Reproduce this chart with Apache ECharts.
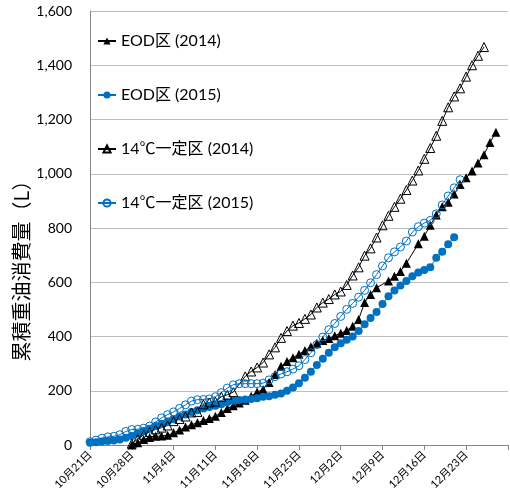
<!DOCTYPE html>
<html>
<head>
<meta charset="utf-8">
<script src="https://cdn.jsdelivr.net/npm/echarts@6/dist/echarts.min.js"></script>
<style>
  html, body { margin: 0; padding: 0; background: #fff; }
  #chart { width: 510px; height: 499px; }
</style>
</head>
<body>
<div id="chart"></div>
<script>
// x軸の目盛ラベル（7日おき、最後の12月30日は表示なし）
const tickLabels = ['10月21日', '10月28日', '11月4日', '11月11日', '11月18日',
  '11月25日', '12月2日', '12月9日', '12月16日', '12月23日', ''];

// 2015年は10月21日から、2014年は10月28日から（日ごとの値）
const start2015 = 0;
const start2014 = 7;

const eod2015 = [8, 10, 13, 15, 17, 20, 27, 33, 42, 52,
  60, 70, 78, 87, 95, 105, 112, 122, 128, 135,
  140, 145, 150, 158, 163, 166, 168, 170, 172, 178,
  180, 185, 190, 200, 212, 228, 248, 270, 295, 318,
  340, 360, 375, 388, 400, 420, 445, 468, 490, 520,
  548, 570, 588, 605, 622, 636, 645, 655, 690, 712,
  740, 766];

const const2015 = [12, 18, 25, 30, 32, 38, 50, 57, 58, 62,
  70, 85, 100, 112, 122, 135, 148, 162, 167, 168,
  170, 178, 193, 210, 222, 226, 226, 226, 226, 228,
  240, 252, 262, 270, 280, 292, 315, 340, 370, 398,
  425, 448, 474, 500, 522, 545, 570, 598, 628, 660,
  690, 712, 730, 752, 785, 805, 818, 828, 852, 885,
  918, 948, 978];

const eod2014 = [0, 8, 20, 28, 32, 33, 36, 45, 55, 66,
  75, 82, 90, 98, 106, 120, 135, 145, 155, 165,
  180, 195, 205, 230, 260, 290, 308, 322, 335, 348,
  362, 375, 385, 393, 403, 412, 422, 438, 463, 525,
  555, 580, null, 605, 622, 640, 670, null, 742, 770,
  810, 848, 878, 895, 925, 960, 985, 1010, 1040, 1070,
  1115, 1153];

const const2014 = [5, 22, 38, 48, 58, 64, 72, 88, 96, 105,
  120, 122, 150, 157, 160, 178, 185, 195, null, 253,
  271, 286, 304, 334, 360, 395, 420, 440, 450, 465,
  481, 507, 525, 538, 555, 566, 590, 625, 655, 698,
  725, 765, 810, 845, 878, 908, 940, 975, 1012, 1055,
  1095, 1140, 1195, 1245, 1285, 1315, 1358, 1400, 1435, 1467];

const toPoints = (values, offset) => values.map((v, i) => [i + offset, v]);

const blue = '#0070C0';
const font = 'Lato, "Noto Sans CJK JP", sans-serif';

const chart = echarts.init(document.getElementById('chart'), null, { renderer: 'canvas' });

chart.setOption({
  animation: false,
  backgroundColor: '#fff',
  textStyle: { fontFamily: font },
  grid: { left: 90, top: 11, right: 1, bottom: 54, containLabel: false },
  legend: {
    orient: 'vertical',
    left: 92,
    top: 28,
    itemWidth: 18,
    itemHeight: 9,
    itemGap: 38,
    textStyle: { fontSize: 16, color: '#000', fontFamily: font },
    data: ['EOD区 (2014)', 'EOD区 (2015)', '14℃一定区 (2014)', '14℃一定区 (2015)']
  },
  xAxis: {
    type: 'value',
    min: 0,
    max: 70,
    interval: 7,
    axisLine: { lineStyle: { color: '#868686' } },
    axisTick: { show: true, length: 5, lineStyle: { color: '#868686' } },
    splitLine: { show: false },
    axisLabel: {
      rotate: 45,
      fontSize: 11,
      color: '#000',
      margin: 8,
      formatter: (v) => tickLabels[Math.round(v / 7)] || ''
    }
  },
  yAxis: {
    type: 'value',
    min: 0,
    max: 1600,
    interval: 200,
    axisLine: { show: true, lineStyle: { color: '#868686' } },
    axisTick: { show: false },
    splitLine: { lineStyle: { color: '#bfbfbf' } },
    axisLabel: {
      fontSize: 14,
      color: '#000',
      margin: 18,
      formatter: (v) => v.toLocaleString('en-US')
    }
  },
  graphic: [{
    type: 'text',
    x: 21,
    y: 266,
    rotation: Math.PI / 2,
    style: {
      text: '累積重油消費量（L）',
      font: '20px "Noto Sans CJK JP", sans-serif',
      fill: '#000',
      align: 'center',
      verticalAlign: 'middle'
    }
  }],
  series: [
    {
      name: 'EOD区 (2014)',
      type: 'line',
      data: toPoints(eod2014, start2014),
      connectNulls: true,
      symbol: 'triangle',
      symbolSize: 9,
      lineStyle: { color: '#000', width: 1 },
      itemStyle: { color: '#000' }
    },
    {
      name: 'EOD区 (2015)',
      type: 'line',
      data: toPoints(eod2015, start2015),
      symbol: 'circle',
      symbolSize: 8,
      lineStyle: { color: blue, width: 1 },
      itemStyle: { color: blue }
    },
    {
      name: '14℃一定区 (2014)',
      type: 'line',
      data: toPoints(const2014, start2014),
      connectNulls: true,
      symbol: 'triangle',
      symbolSize: 9,
      lineStyle: { color: '#000', width: 1 },
      itemStyle: { color: 'rgba(255,255,255,0)', borderColor: '#000', borderWidth: 1 }
    },
    {
      name: '14℃一定区 (2015)',
      type: 'line',
      data: toPoints(const2015, start2015),
      symbol: 'circle',
      symbolSize: 8,
      lineStyle: { color: blue, width: 1 },
      itemStyle: { color: 'rgba(255,255,255,0)', borderColor: blue, borderWidth: 1 }
    }
  ]
});
</script>
</body>
</html>
